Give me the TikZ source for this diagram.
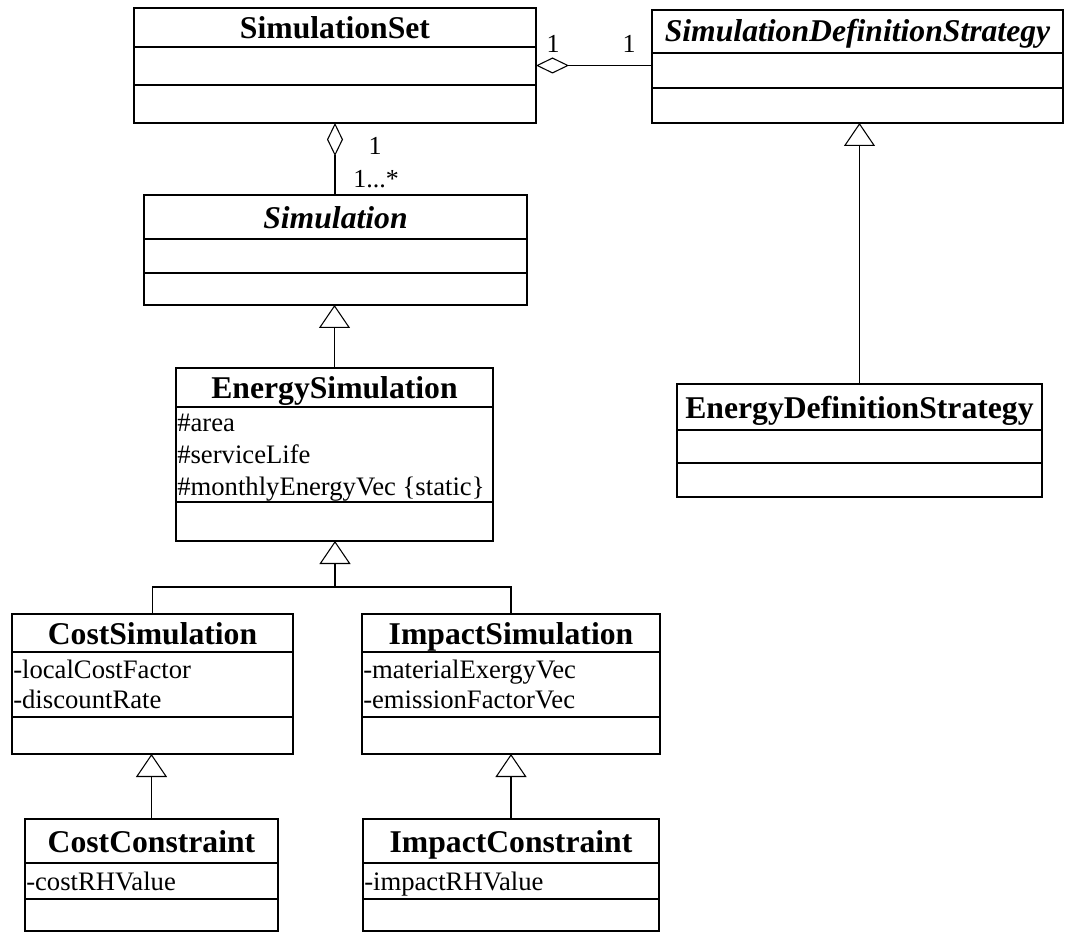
\documentclass[tikz,border=0pt]{standalone}
\usepackage{fontspec}
\setmainfont{Liberation Serif}
\usetikzlibrary{fit,arrows.meta}
\begin{document}
\begin{tikzpicture}[x=0.75pt,y=-0.75pt,
  classbox/.style={draw, line width=1pt, inner sep=0pt, outer sep=0pt},
  divider/.style={line width=1pt},
  ctitle/.style={font=\fontsize{23.75pt}{28pt}\selectfont\bfseries, inner sep=0pt, text height=16pt, text depth=0pt},
  atitle/.style={font=\fontsize{23.75pt}{28pt}\selectfont\bfseries\itshape, inner sep=0pt, text height=16pt, text depth=0pt},
  attr/.style={font=\fontsize{20pt}{24pt}\selectfont, anchor=west, inner sep=0pt, text height=13pt, text depth=0pt},
  mult/.style={font=\fontsize{19.5pt}{23pt}\selectfont, inner sep=0pt, text height=13pt, text depth=0pt},
  conn/.style={line width=0.8pt},
  gen/.style={line width=0.8pt, -{Triangle[open,length=17.25pt,width=23.25pt,fill=white]}},
  agg/.style={line width=0.8pt, {Diamond[open,length=24.75pt,width=12pt,fill=white]}-},
]
\useasboundingbox (0,0) rectangle (1065,934);

% SimulationSet
\node[classbox, fit={(134,8) (536,123)}] (simset) {};
\draw[divider] (134,47) -- (536,47);
\draw[divider] (134,85) -- (536,85);
\node[ctitle] (simsetT) at (335,28) {SimulationSet};

% SimulationDefinitionStrategy
\node[classbox, fit={(652,10) (1063,123)}] (sds) {};
\draw[divider] (652,53) -- (1063,53);
\draw[divider] (652,88) -- (1063,88);
\node[atitle] (sdsT) at (857.5,31) {SimulationDefinitionStrategy};

% Simulation
\node[classbox, fit={(144,195) (527,305)}] (sim) {};
\draw[divider] (144,239) -- (527,239);
\draw[divider] (144,273) -- (527,273);
\node[atitle] (simT) at (335.5,218) {Simulation};

% EnergySimulation
\node[classbox, fit={(176,368) (493,541)}] (es) {};
\draw[divider] (176,407) -- (493,407);
\draw[divider] (176,502) -- (493,502);
\node[ctitle] (esT) at (334.5,388) {EnergySimulation};
\node[attr] (esA1) at (177,423) {\#area};
\node[attr] (esA2) at (177,455) {\#serviceLife};
\node[attr] (esA3) at (177,487) {\#monthlyEnergyVec \{static\}};

% EnergyDefinitionStrategy
\node[classbox, fit={(677,384) (1042,497)}] (eds) {};
\draw[divider] (677,430) -- (1042,430);
\draw[divider] (677,463) -- (1042,463);
\node[ctitle] (edsT) at (859.5,408) {EnergyDefinitionStrategy};

% CostSimulation
\node[classbox, fit={(12,614) (293,754)}] (cs) {};
\draw[divider] (12,652) -- (293,652);
\draw[divider] (12,717) -- (293,717);
\node[ctitle] (csT) at (152.5,634) {CostSimulation};
\node[attr] (csA1) at (13,670) {-localCostFactor};
\node[attr] (csA2) at (13,700) {-discountRate};

% ImpactSimulation
\node[classbox, fit={(362,614) (660,754)}] (is) {};
\draw[divider] (362,652) -- (660,652);
\draw[divider] (362,717) -- (660,717);
\node[ctitle] (isT) at (511,634) {ImpactSimulation};
\node[attr] (isA1) at (363,670) {-materialExergyVec};
\node[attr] (isA2) at (363,700) {-emissionFactorVec};

% CostConstraint
\node[classbox, fit={(25,819) (278,931)}] (cc) {};
\draw[divider] (25,863) -- (278,863);
\draw[divider] (25,899) -- (278,899);
\node[ctitle] (ccT) at (151.5,842) {CostConstraint};
\node[attr] (ccA1) at (26,882) {-costRHValue};

% ImpactConstraint
\node[classbox, fit={(363,819) (659,931)}] (ic) {};
\draw[divider] (363,863) -- (659,863);
\draw[divider] (363,899) -- (659,899);
\node[ctitle] (icT) at (511,842) {ImpactConstraint};
\node[attr] (icA1) at (364,882) {-impactRHValue};

% Aggregations
\draw[agg] (simset.south) -- (sim.north -| simset.south);
\draw[agg] (simset.east) -- (simset.east -| sds.west);
\node[mult] (m1) at (375,146) {1};
\node[mult] (m2) at (376,179) {1...*};
\node[mult] (m3) at (553,44) {1};
\node[mult] (m4) at (629,44) {1};

% Generalizations
\draw[gen] (es.north) -- (es.north |- sim.south);
\draw[gen] (eds.north) -- (eds.north |- sds.south);
\coordinate (jn) at (335,587);
\draw[conn] (cs.north) |- (jn);
\draw[conn] (is.north) |- (jn);
\draw[gen] (jn) -- (jn |- es.south);
\draw[gen] (cc.north) -- (cc.north |- cs.south);
\draw[gen] (ic.north) -- (ic.north |- is.south);
\end{tikzpicture}
\end{document}
